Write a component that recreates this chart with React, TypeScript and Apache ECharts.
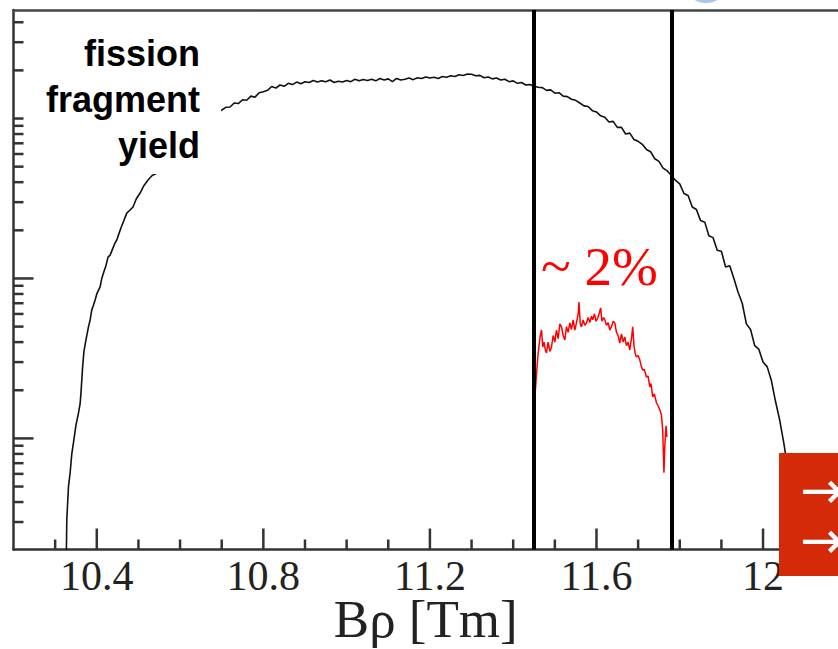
import React, { useEffect, useRef } from "react";
import * as echarts from "echarts";

// Axis ranges (Bρ in Tm, yield in arbitrary counts on a log scale)
const xMin = 10.2;
const xMax = 12.18;
const yMin = 2.02;
const yMax = 4770;

const xMajorTicks = [10.4, 10.8, 11.2, 11.6, 12];
const xMinorTicks = [10.3, 10.5, 10.6, 10.7, 10.9, 11.0, 11.1, 11.3, 11.4, 11.5, 11.7, 11.8, 11.9, 12.1];
const yMajorTicks = [10, 100];
const yMinorTicks = [3, 4, 5, 6, 7, 8, 9, 20, 30, 40, 50, 60, 70, 80, 90, 200, 300, 400, 500, 600, 700, 800, 900, 1000, 2000, 3000, 4000];

const cutLines = [11.447, 11.776];

// fission fragment yield (black)
const yieldX = [
  10.327, 10.328, 10.332, 10.336, 10.34, 10.344, 10.35, 10.356, 10.36, 10.362, 10.366, 10.369, 10.374, 10.38, 10.384,
  10.388, 10.392, 10.396, 10.4, 10.408, 10.412, 10.417, 10.422, 10.427, 10.432, 10.437, 10.443, 10.448, 10.453, 10.458,
  10.465, 10.472, 10.48, 10.487, 10.495, 10.504, 10.513, 10.523, 10.533, 10.545, 10.575, 10.6, 10.625, 10.648, 10.675,
  10.70, 10.71, 10.72, 10.73, 10.74, 10.75, 10.76, 10.77, 10.78, 10.79, 10.80, 10.81, 10.82, 10.83, 10.84, 10.85, 10.86,
  10.87, 10.88, 10.89, 10.90, 10.91, 10.92, 10.93, 10.94, 10.95, 10.96, 10.97, 10.98, 10.99, 11.00, 11.01, 11.02, 11.03,
  11.04, 11.05, 11.06, 11.07, 11.08, 11.09, 11.10, 11.11, 11.12, 11.13, 11.14, 11.15, 11.16, 11.17, 11.18, 11.19, 11.20,
  11.21, 11.22, 11.23, 11.24, 11.25, 11.26, 11.27, 11.28, 11.29, 11.30, 11.31, 11.32, 11.33, 11.34, 11.35, 11.36, 11.37,
  11.38, 11.39, 11.40, 11.41, 11.42, 11.43, 11.44, 11.45, 11.46, 11.47, 11.48, 11.49, 11.50, 11.51, 11.52, 11.53, 11.54,
  11.55, 11.56, 11.57, 11.58, 11.59, 11.60, 11.61, 11.62, 11.63, 11.64, 11.65, 11.66, 11.67, 11.68, 11.69, 11.70, 11.71,
  11.72, 11.73, 11.74, 11.75, 11.76, 11.77, 11.78, 11.79, 11.80, 11.81, 11.82, 11.83, 11.84, 11.85, 11.86, 11.87, 11.88,
  11.89, 11.90, 11.91, 11.92, 11.93, 11.94, 11.95, 11.96, 11.97, 11.98, 11.99, 12.00, 12.01, 12.02, 12.03, 12.04, 12.05,
  12.06, 12.07,
];
const yieldY = [
  2.0, 3.1, 5.0, 6.1, 8.0, 9.4, 12.1, 14.4, 16.5, 19.2, 28.0, 34.7, 41.3, 49.8, 55,
  63.6, 68, 73.4, 80, 88.5, 100, 110, 120, 136, 140, 151, 165, 174, 190, 207,
  230, 256, 268, 280, 315, 342, 380, 413, 440, 456, 560, 655, 780, 910, 1030,
  1130, 1175, 1180, 1250, 1240, 1310, 1300, 1380, 1360, 1450, 1470, 1500, 1585, 1550, 1620, 1590, 1660,
  1630, 1690, 1650, 1700, 1680, 1730, 1690, 1720, 1700, 1740, 1680, 1710, 1690, 1730, 1700, 1760, 1720,
  1755, 1730, 1760, 1720, 1780, 1740, 1770, 1700, 1780, 1740, 1760, 1790, 1750, 1800, 1780, 1820, 1790,
  1810, 1780, 1830, 1810, 1850, 1830, 1880, 1860, 1900, 1890, 1850, 1860, 1800, 1820, 1770, 1790, 1740,
  1760, 1700, 1720, 1660, 1680, 1620, 1630, 1590, 1570, 1560, 1500, 1510, 1440, 1450, 1380, 1370, 1320,
  1300, 1250, 1200, 1190, 1120, 1100, 1040, 1020, 950, 960, 880, 880, 800, 810, 740, 720, 690,
  640, 620, 560, 540, 490, 470, 440, 410, 390, 340, 330, 280, 270, 230, 225, 185, 180,
  150, 148, 118, 120, 100, 82, 70, 52, 48, 38, 36, 30, 28, 23, 17, 13, 9.3,
  6.3, 2.0,
];

// selected fragments (~2 %, red)
const cutX = [
  11.45, 11.45, 11.452, 11.455, 11.459, 11.462, 11.465, 11.468, 11.471, 11.474, 11.477, 11.48, 11.484, 11.488, 11.492,
  11.496, 11.5, 11.504, 11.508, 11.512, 11.516, 11.52, 11.524, 11.528, 11.532, 11.536, 11.54, 11.544, 11.548, 11.552,
  11.556, 11.558, 11.561, 11.564, 11.568, 11.572, 11.576, 11.58, 11.584, 11.588, 11.591, 11.595, 11.599, 11.603, 11.607,
  11.61, 11.613, 11.617, 11.62, 11.624, 11.628, 11.632, 11.636, 11.64, 11.644, 11.648, 11.652, 11.656, 11.66, 11.664,
  11.668, 11.672, 11.676, 11.68, 11.684, 11.687, 11.69, 11.693, 11.696, 11.7, 11.704, 11.708, 11.711, 11.715, 11.72,
  11.724, 11.728, 11.731, 11.735, 11.739, 11.744, 11.748, 11.752, 11.756, 11.759, 11.762, 11.764, 11.767, 11.769,
];
const cutY = [
  2.0, 13.6, 18, 23.2, 32.3, 38, 44, 47.6, 37.3, 40, 36, 34.2, 40, 35, 37.3,
  44, 40, 47.6, 42, 52, 49.8, 44, 41.3, 50, 46, 52.7, 48, 55, 47.6, 53,
  60, 71.3, 52, 49.8, 55, 51, 52.7, 57, 53, 58, 55.1, 60, 54, 56.6, 61,
  65.5, 54, 57, 55.1, 51, 53, 47.6, 50, 54, 52.7, 46, 44, 39.5, 45, 40,
  43.1, 38, 40, 35.7, 42, 49.8, 38, 34, 32.3, 33, 31.0, 28, 26.8, 27, 24.2,
  24.5, 21.0, 22, 18.2, 19, 16.7, 16, 15.1, 14, 11.3, 6.1, 8.85, 12, 10.2,
];

const AXIS_COLOR = "#333";
const SERIF = "'Liberation Serif', 'DejaVu Serif', serif";

export default function App() {
  const ref = useRef<HTMLDivElement>(null);

  useEffect(() => {
    if (!ref.current) return;
    const chart = echarts.init(ref.current, undefined, { renderer: "svg" });

    const yTickData = [
      ...yMajorTicks.map((v) => [xMin, v, 20]),
      ...yMinorTicks.map((v) => [xMin, v, 10]),
    ];
    const xTickData = [
      ...xMajorTicks.map((v) => [v, yMin, 21]),
      ...xMinorTicks.map((v) => [v, yMin, 10]),
    ];

    chart.setOption({
      animation: false,
      backgroundColor: "#fff",
      grid: { left: 13.5, right: 0, top: 10, bottom: 99.5, containLabel: false, outerBoundsMode: "none" },
      xAxis: [
        {
          type: "value",
          min: xMin,
          max: xMax,
          position: "bottom",
          splitLine: { show: false },
          axisLine: { show: true, lineStyle: { color: AXIS_COLOR, width: 2.5 } },
          axisTick: { show: false },
          axisLabel: {
            show: true,
            customValues: xMajorTicks,
            margin: 8,
            fontFamily: SERIF,
            fontSize: 42,
            lineHeight: 36,
            color: "#222",
            formatter: (v: number) => (Math.abs(v - Math.round(v)) < 1e-6 ? String(Math.round(v)) : v.toFixed(1)),
          },
          name: "Bρ [Tm]",
          nameLocation: "middle",
          nameGap: 49,
          nameMoveOverlap: false,
          nameTextStyle: { fontFamily: SERIF, fontSize: 53, lineHeight: 40, color: "#222" },
        },
        {
          type: "value",
          min: xMin,
          max: xMax,
          position: "top",
          splitLine: { show: false },
          axisLine: { show: true, lineStyle: { color: "#444", width: 2.5 } },
          axisTick: { show: false },
          axisLabel: { show: false },
        },
      ],
      yAxis: {
        type: "log",
        logBase: 10,
        min: yMin,
        max: yMax,
        position: "left",
        splitLine: { show: false },
        axisLine: { show: true, lineStyle: { color: AXIS_COLOR, width: 2.5 } },
        axisTick: { show: false },
        axisLabel: { show: false },
      },
      series: [
        {
          name: "fission fragment yield",
          type: "line",
          data: yieldX.map((x, i) => [x, yieldY[i]]),
          showSymbol: false,
          symbol: "none",
          clip: true,
          lineStyle: { color: "#111", width: 1.6 },
          z: 3,
          markLine: {
            silent: true,
            symbol: ["none", "none"],
            label: { show: false },
            lineStyle: { color: "#000", width: 4, type: "solid" },
            data: cutLines.map((v) => ({ xAxis: v })),
          },
        },
        {
          name: "selected",
          type: "line",
          data: cutX.map((x, i) => [x, cutY[i]]),
          showSymbol: false,
          symbol: "none",
          clip: true,
          lineStyle: { color: "#ff0000", width: 1.5 },
          z: 4,
        },
        {
          type: "custom",
          coordinateSystem: "cartesian2d",
          silent: true,
          clip: false,
          z: 6,
          data: yTickData,
          renderItem: (_p: any, api: any) => {
            const pt = api.coord([api.value(0), api.value(1)]);
            const len = api.value(2);
            return {
              type: "line",
              shape: { x1: pt[0], y1: pt[1], x2: pt[0] + len, y2: pt[1] },
              style: { stroke: AXIS_COLOR, lineWidth: 2.5 },
            };
          },
        },
        {
          type: "custom",
          coordinateSystem: "cartesian2d",
          silent: true,
          clip: false,
          z: 6,
          data: xTickData,
          renderItem: (_p: any, api: any) => {
            const pt = api.coord([api.value(0), api.value(1)]);
            const len = api.value(2);
            return {
              type: "line",
              shape: { x1: pt[0], y1: pt[1], x2: pt[0], y2: pt[1] - len },
              style: { stroke: AXIS_COLOR, lineWidth: 2.5 },
            };
          },
        },
      ],
      graphic: [
        {
          type: "ellipse",
          z: 100,
          shape: { cx: 706, cy: -7, rx: 16, ry: 10 },
          style: { fill: "#a8c6f2" },
        },
        {
          type: "rect",
          z: 100,
          shape: { x: 30, y: 18, width: 191, height: 156 },
          style: { fill: "#fff" },
        },
        {
          type: "text",
          z: 101,
          x: 200,
          y: 30,
          style: {
            text: "fission\nfragment\nyield",
            font: "bold 36px 'Liberation Sans', Arial, sans-serif",
            fill: "#000",
            align: "right",
            verticalAlign: "top",
            lineHeight: 46,
          },
        },
        {
          type: "text",
          z: 101,
          x: 541,
          y: 266,
          style: {
            text: "~ 2%",
            font: "55px 'Liberation Serif', serif",
            fill: "#ff0000",
            align: "left",
            verticalAlign: "middle",
          },
        },
        {
          type: "rect",
          z: 100,
          shape: { x: 779, y: 453, width: 60, height: 123 },
          style: { fill: "#d42a07" },
        },
        {
          type: "text",
          z: 101,
          x: 800,
          y: 490,
          style: { text: "→", font: "52px 'DejaVu Sans', sans-serif", fill: "#fff", align: "left", verticalAlign: "middle" },
        },
        {
          type: "text",
          z: 101,
          x: 800,
          y: 540,
          style: { text: "→", font: "52px 'DejaVu Sans', sans-serif", fill: "#fff", align: "left", verticalAlign: "middle" },
        },
      ],
    });

    return () => chart.dispose();
  }, []);

  return (
    <div
      ref={ref}
      style={{ position: "fixed", left: 0, top: 0, width: 838, height: 649, background: "#fff" }}
    />
  );
}
